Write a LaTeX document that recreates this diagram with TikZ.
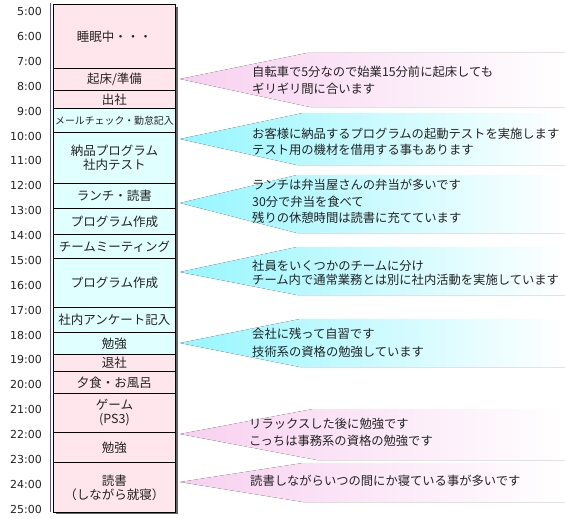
\documentclass[tikz,border=0pt]{standalone}
\usepackage{fontspec}
\setmainfont{DejaVu Sans}
\newfontfamily\jp{Noto Sans CJK JP}
\definecolor{blkpink}{RGB}{255,230,236}
\definecolor{blkcyan}{RGB}{224,255,255}
\definecolor{callpink}{RGB}{248,208,240}
\definecolor{callcyan}{RGB}{150,246,255}
\definecolor{tline}{RGB}{70,80,200}
\definecolor{txt}{RGB}{35,35,35}
\tikzset{
  blk/.style={draw=black, line width=0.9pt, minimum width=122pt, anchor=north west,
    inner sep=0pt, align=center, text=txt, font=\jp\fontsize{12.5}{14}\selectfont},
  pk/.style={blk, fill=blkpink},
  cy/.style={blk, fill=blkcyan},
  tm/.style={anchor=east, inner sep=0pt, text=txt, font=\fontsize{11}{13}\selectfont},
  ctext/.style={anchor=west, inner sep=0pt, align=left, text=txt},
  pcall/.style={left color=callpink, right color=white},
  ccall/.style={left color=callcyan, right color=white},
}
\newcommand{\cfont}[1]{\jp\fontsize{12.3}{#1}\selectfont}
\begin{document}
\begin{tikzpicture}[x=1pt,y=-1pt]
\useasboundingbox (0,0) rectangle (565,519);
% callouts
\fill[pcall] (180,79) -- (307,53) -- (565,53) -- (565,107) -- (310,107) -- cycle;
\fill[ccall] (180,139) -- (303,113) -- (565,113) -- (565,165) -- (297,165) -- cycle;
\fill[ccall] (180,203) -- (297,175) -- (565,175) -- (565,233) -- (297,233) -- cycle;
\fill[ccall] (180,272) -- (297,247) -- (565,247) -- (565,295) -- (297,295) -- cycle;
\fill[ccall] (180,343) -- (300,319) -- (565,319) -- (565,367) -- (300,367) -- cycle;
\fill[pcall] (180,434) -- (313,409) -- (565,409) -- (565,460) -- (317,460) -- cycle;
\fill[pcall] (180,482) -- (303,463) -- (565,463) -- (565,502) -- (303,502) -- cycle;
\node[ctext, font=\cfont{17}] (c1) at (252,80.5) {自転車で5分なので始業15分前に起床しても\\ギリギリ間に合います};
\node[ctext, font=\cfont{16}] (c2) at (252,142) {お客様に納品するプログラムの起動テストを実施します\\テスト用の機材を借用する事もあります};
\node[ctext, font=\cfont{16.5}] (c3) at (252,201.5) {ランチは弁当屋さんの弁当が多いです\\30分で弁当を食べて\\残りの休憩時間は読書に充てています};
\node[ctext, font=\cfont{13.5}] (c4) at (252,273) {社員をいくつかのチームに分け\\チーム内で通常業務とは別に社内活動を実施しています};
\node[ctext, font=\cfont{18}] (c5) at (252,342.5) {会社に残って自習です\\技術系の資格の勉強しています};
\node[ctext, font=\cfont{17.5}] (c6) at (249,432.5) {リラックスした後に勉強です\\こっちは事務系の資格の勉強です};
\node[ctext, font=\cfont{15}] (c7) at (250,481) {読書しながらいつの間にか寝ている事が多いです};
% timeline axis
\draw[tline, line width=1pt] (50,3) -- (50,512);
\foreach \h [count=\i from 0] in {5,...,25}
  \node[tm] (t\h) at (42,11.7+\i*24.87) {\h:00};
% shadow
\fill[black!60] (56,7) rectangle (177.5,514);
% blocks
\node[pk, minimum height=64pt] (b1) at (53,4) {睡眠中・・・};
\node[pk, minimum height=22pt] (b2) at (53,68) {起床/準備};
\node[pk, minimum height=18pt] (b3) at (53,90) {出社};
\node[cy, minimum height=24pt, font=\jp\fontsize{9.9}{12}\selectfont] (b4) at (53,108) {メールチェック・勤怠記入};
\node[cy, minimum height=51pt] (b5) at (53,132) {納品プログラム\\社内テスト};
\node[cy, minimum height=25pt] (b6) at (53,183) {ランチ・読書};
\node[cy, minimum height=26pt] (b7) at (53,208) {プログラム作成};
\node[cy, minimum height=24pt] (b8) at (53,234) {チームミーティング};
\node[cy, minimum height=49pt] (b9) at (53,258) {プログラム作成};
\node[cy, minimum height=25pt] (b10) at (53,307) {社内アンケート記入};
\node[cy, minimum height=22pt] (b11) at (53,332) {勉強};
\node[pk, minimum height=17pt] (b12) at (53,354) {退社};
\node[pk, minimum height=22pt] (b13) at (53,371) {夕食・お風呂};
\node[pk, minimum height=39pt] (b14) at (53,393) {ゲーム\\(PS3)};
\node[pk, minimum height=30pt] (b15) at (53,432) {勉強};
\node[pk, minimum height=50pt] (b16) at (53,462) {読書\\（しながら就寝）};
\end{tikzpicture}
\end{document}
